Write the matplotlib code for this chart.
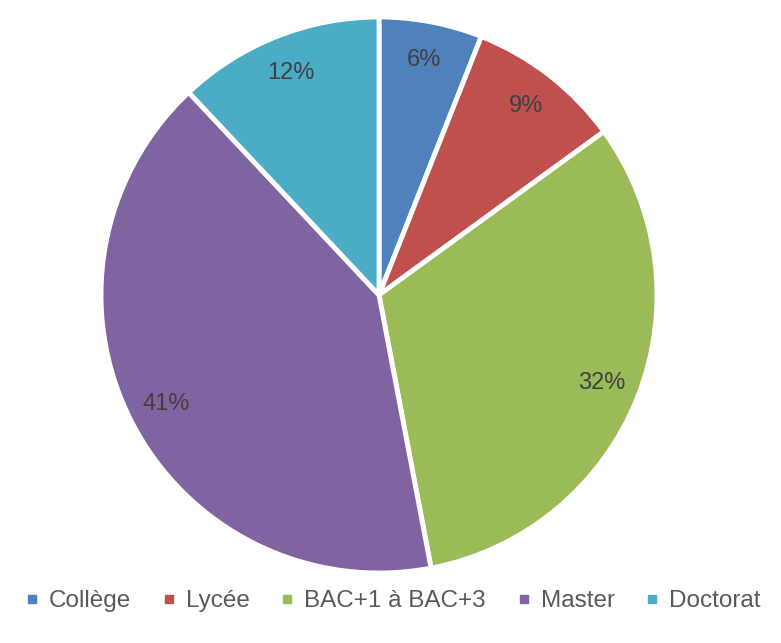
import matplotlib.pyplot as plt
from matplotlib.lines import Line2D

# donnees
categories = ["Collège", "Lycée", "BAC+1 à BAC+3", "Master", "Doctorat"]
parts = [6, 9, 32, 41, 12]
couleurs = ["#4F81BD", "#C0504D", "#9BBB59", "#8064A2", "#4BACC6"]

plt.rcParams['font.family'] = ['Liberation Sans', 'DejaVu Sans']

fig = plt.figure(figsize=(7.81, 6.43), dpi=100)
# centre ~ (379, 295) px, rayon ~ 278 px
ax = fig.add_axes([(379 - 278) / 781, (643 - 573) / 643, 556 / 781, 556 / 643])

wedges, texts, autotexts = ax.pie(
    parts, colors=couleurs, startangle=90, counterclock=False,
    autopct='%1.0f%%', pctdistance=0.86,
    wedgeprops=dict(edgecolor='white', linewidth=3.5),
    textprops=dict(color='#404040', fontsize=17))
for w in wedges:
    w.set_clip_on(False)
ax.set_xlim(-1, 1)
ax.set_ylim(-1, 1)
ax.set_aspect('equal')
ax.axis('off')

poignees = [Line2D([], [], marker='s', linestyle='none', markersize=6,
                   markerfacecolor=c, markeredgecolor=c) for c in couleurs]
fig.legend(poignees, categories, loc='center', bbox_to_anchor=(0.503, 1 - 601 / 643),
           ncol=5, frameon=False, fontsize=17.5, labelcolor='#595959',
           handlelength=0.6, handletextpad=0.4, columnspacing=1.25)

fig.savefig("out.png", dpi=100)
